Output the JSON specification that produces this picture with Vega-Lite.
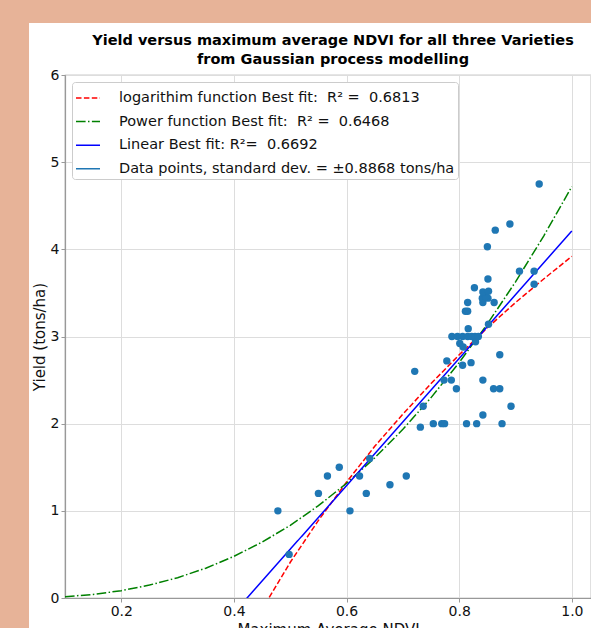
{
  "$schema": "https://vega.github.io/schema/vega-lite/v6.json",
  "width": 526,
  "height": 523,
  "autosize": {"type": "none"},
  "padding": {"left": 65, "top": 75, "right": 0, "bottom": 30},
  "background": "white",
  "title": {
    "text": ["Yield versus maximum average NDVI for all three Varieties", "from Gaussian process modelling"],
    "font": "DejaVu Sans",
    "fontSize": 14.5,
    "fontWeight": "bold",
    "color": "black",
    "anchor": "middle",
    "frame": "group",
    "dx": 5,
    "dy": 67,
    "offset": 0,
    "lineHeight": 19
  },
  "config": {
    "font": "DejaVu Sans",
    "view": {"stroke": "#999999", "strokeWidth": 1.2},
    "axis": {
      "labelFont": "DejaVu Sans",
      "labelFontSize": 14,
      "labelColor": "#111111",
      "titleFont": "DejaVu Sans",
      "titleFontSize": 15,
      "titleFontWeight": "normal",
      "titleColor": "#111111",
      "domainColor": "#999999",
      "domainWidth": 1.2,
      "tickColor": "#999999",
      "tickSize": 4,
      "gridColor": "#dddddd",
      "gridWidth": 1,
      "labelPadding": 2
    },
    "legend": {
      "orient": "top-left",
      "offset": 7,
      "padding": 3,
      "fillColor": "white",
      "strokeColor": "#cccccc",
      "cornerRadius": 3,
      "labelFont": "DejaVu Sans",
      "labelFontSize": 14.5,
      "labelColor": "#111111",
      "labelOffset": 18,
      "rowPadding": 3.6,
      "symbolType": "stroke",
      "symbolSize": 576,
      "symbolStrokeWidth": 1.5,
      "labelLimit": 500
    }
  },
  "datasets": {
    "points": [
      {"ndvi": 0.478, "yield": 1.00}, {"ndvi": 0.498, "yield": 0.50}, {"ndvi": 0.550, "yield": 1.20},
      {"ndvi": 0.566, "yield": 1.40}, {"ndvi": 0.587, "yield": 1.50}, {"ndvi": 0.606, "yield": 1.00},
      {"ndvi": 0.623, "yield": 1.40}, {"ndvi": 0.635, "yield": 1.20}, {"ndvi": 0.641, "yield": 1.60},
      {"ndvi": 0.677, "yield": 1.30}, {"ndvi": 0.706, "yield": 1.40}, {"ndvi": 0.721, "yield": 2.60},
      {"ndvi": 0.731, "yield": 1.96}, {"ndvi": 0.736, "yield": 2.20}, {"ndvi": 0.754, "yield": 2.00},
      {"ndvi": 0.769, "yield": 2.00}, {"ndvi": 0.774, "yield": 2.00}, {"ndvi": 0.813, "yield": 2.00},
      {"ndvi": 0.831, "yield": 2.00}, {"ndvi": 0.876, "yield": 2.00}, {"ndvi": 0.842, "yield": 2.10},
      {"ndvi": 0.892, "yield": 2.20}, {"ndvi": 0.795, "yield": 2.40}, {"ndvi": 0.861, "yield": 2.40},
      {"ndvi": 0.872, "yield": 2.40}, {"ndvi": 0.773, "yield": 2.50}, {"ndvi": 0.786, "yield": 2.50},
      {"ndvi": 0.842, "yield": 2.50}, {"ndvi": 0.806, "yield": 2.67}, {"ndvi": 0.821, "yield": 2.70},
      {"ndvi": 0.778, "yield": 2.72}, {"ndvi": 0.872, "yield": 2.79}, {"ndvi": 0.801, "yield": 2.92},
      {"ndvi": 0.807, "yield": 2.88}, {"ndvi": 0.829, "yield": 2.94}, {"ndvi": 0.787, "yield": 3.00},
      {"ndvi": 0.797, "yield": 3.00}, {"ndvi": 0.806, "yield": 3.00}, {"ndvi": 0.815, "yield": 3.00},
      {"ndvi": 0.822, "yield": 3.00}, {"ndvi": 0.828, "yield": 3.00}, {"ndvi": 0.834, "yield": 3.00},
      {"ndvi": 0.816, "yield": 3.09}, {"ndvi": 0.852, "yield": 3.14}, {"ndvi": 0.811, "yield": 3.29},
      {"ndvi": 0.815, "yield": 3.29}, {"ndvi": 0.815, "yield": 3.39}, {"ndvi": 0.862, "yield": 3.39},
      {"ndvi": 0.842, "yield": 3.39}, {"ndvi": 0.841, "yield": 3.44}, {"ndvi": 0.851, "yield": 3.44},
      {"ndvi": 0.847, "yield": 3.46}, {"ndvi": 0.842, "yield": 3.51}, {"ndvi": 0.852, "yield": 3.52},
      {"ndvi": 0.827, "yield": 3.56}, {"ndvi": 0.851, "yield": 3.66}, {"ndvi": 0.933, "yield": 3.60},
      {"ndvi": 0.907, "yield": 3.75}, {"ndvi": 0.933, "yield": 3.75}, {"ndvi": 0.850, "yield": 4.03},
      {"ndvi": 0.864, "yield": 4.22}, {"ndvi": 0.890, "yield": 4.29}, {"ndvi": 0.942, "yield": 4.75}
    ],
    "fits": [
      {"series": "log", "ndvi": 0.10, "yield": -7.75},
      {"series": "log", "ndvi": 0.20, "yield": -4.24},
      {"series": "log", "ndvi": 0.30, "yield": -2.18},
      {"series": "log", "ndvi": 0.35, "yield": -1.40},
      {"series": "log", "ndvi": 0.40, "yield": -0.73},
      {"series": "log", "ndvi": 0.45, "yield": -0.13},
      {"series": "log", "ndvi": 0.50, "yield": 0.41},
      {"series": "log", "ndvi": 0.55, "yield": 0.89},
      {"series": "log", "ndvi": 0.60, "yield": 1.33},
      {"series": "log", "ndvi": 0.65, "yield": 1.74},
      {"series": "log", "ndvi": 0.70, "yield": 2.11},
      {"series": "log", "ndvi": 0.75, "yield": 2.46},
      {"series": "log", "ndvi": 0.80, "yield": 2.79},
      {"series": "log", "ndvi": 0.85, "yield": 3.10},
      {"series": "log", "ndvi": 0.90, "yield": 3.39},
      {"series": "log", "ndvi": 0.95, "yield": 3.66},
      {"series": "log", "ndvi": 1.00, "yield": 3.92},
      {"series": "power", "ndvi": 0.10, "yield": 0.015},
      {"series": "power", "ndvi": 0.15, "yield": 0.041},
      {"series": "power", "ndvi": 0.20, "yield": 0.084},
      {"series": "power", "ndvi": 0.25, "yield": 0.148},
      {"series": "power", "ndvi": 0.30, "yield": 0.233},
      {"series": "power", "ndvi": 0.35, "yield": 0.342},
      {"series": "power", "ndvi": 0.40, "yield": 0.478},
      {"series": "power", "ndvi": 0.45, "yield": 0.641},
      {"series": "power", "ndvi": 0.50, "yield": 0.834},
      {"series": "power", "ndvi": 0.55, "yield": 1.059},
      {"series": "power", "ndvi": 0.60, "yield": 1.316},
      {"series": "power", "ndvi": 0.65, "yield": 1.608},
      {"series": "power", "ndvi": 0.70, "yield": 1.935},
      {"series": "power", "ndvi": 0.75, "yield": 2.299},
      {"series": "power", "ndvi": 0.80, "yield": 2.702},
      {"series": "power", "ndvi": 0.85, "yield": 3.144},
      {"series": "power", "ndvi": 0.90, "yield": 3.627},
      {"series": "power", "ndvi": 0.95, "yield": 4.152},
      {"series": "power", "ndvi": 1.00, "yield": 4.720},
      {"series": "linear", "ndvi": 0.10, "yield": -2.36},
      {"series": "linear", "ndvi": 0.50, "yield": 0.56},
      {"series": "linear", "ndvi": 0.80, "yield": 2.75},
      {"series": "linear", "ndvi": 1.00, "yield": 4.21}
    ]
  },
  "layer": [
    {
      "data": {"name": "fits"},
      "mark": {"type": "line", "strokeWidth": 1.5, "clip": true},
      "encoding": {
        "x": {
          "field": "ndvi", "type": "quantitative",
          "scale": {"domain": [0.1, 1.034], "nice": false, "zero": false},
          "axis": {"values": [0.2, 0.4, 0.6, 0.8, 1.0], "format": ".1f", "title": "Maximum Average NDVI", "titlePadding": 4}
        },
        "y": {
          "field": "yield", "type": "quantitative",
          "scale": {"domain": [0, 6], "nice": false, "zero": false},
          "axis": {"values": [0, 1, 2, 3, 4, 5, 6], "format": "d", "title": "Yield (tons/ha)", "titlePadding": 3}
        },
        "color": {
          "field": "series", "type": "nominal",
          "scale": {
            "domain": ["log", "power", "linear", "points"],
            "range": ["#ff0000", "#008000", "#0000ff", "#1f77b4"]
          },
          "legend": {
            "title": null,
            "labelExpr": "datum.value == 'log' ? 'logarithim function Best fit:\u00a0 R² =\u00a0 0.6813' : datum.value == 'power' ? 'Power function Best fit:\u00a0 R² =\u00a0 0.6468' : datum.value == 'linear' ? 'Linear Best fit: R²=\u00a0 0.6692' : 'Data points, standard dev. = ±0.8868 tons/ha'"
          }
        },
        "strokeDash": {
          "field": "series", "type": "nominal",
          "scale": {
            "domain": ["log", "power", "linear", "points"],
            "range": [[5.5, 2.4], [9.6, 2.4, 1.5, 2.4], [1, 0], [1, 0]]
          },
          "legend": {
            "title": null,
            "labelExpr": "datum.value == 'log' ? 'logarithim function Best fit:\u00a0 R² =\u00a0 0.6813' : datum.value == 'power' ? 'Power function Best fit:\u00a0 R² =\u00a0 0.6468' : datum.value == 'linear' ? 'Linear Best fit: R²=\u00a0 0.6692' : 'Data points, standard dev. = ±0.8868 tons/ha'"
          }
        }
      }
    },
    {
      "data": {"name": "points"},
      "mark": {"type": "circle", "size": 55, "opacity": 1},
      "encoding": {
        "x": {"field": "ndvi", "type": "quantitative"},
        "y": {"field": "yield", "type": "quantitative"},
        "color": {"datum": "points", "type": "nominal"}
      }
    },
    {
      "data": {"values": [{}]},
      "mark": {"type": "rect", "fill": "#e7b398", "clip": false},
      "encoding": {
        "x": {"datum": -0.0155, "type": "quantitative"},
        "x2": {"datum": 0.0361},
        "y": {"datum": -0.344, "type": "quantitative"},
        "y2": {"datum": 6.8604}
      }
    },
    {
      "data": {"values": [{}]},
      "mark": {"type": "rect", "fill": "#e7b398", "clip": false},
      "encoding": {
        "x": {"datum": -0.0155, "type": "quantitative"},
        "x2": {"datum": 1.034},
        "y": {"datum": 6.597, "type": "quantitative"},
        "y2": {"datum": 6.8604}
      }
    }
  ]
}
